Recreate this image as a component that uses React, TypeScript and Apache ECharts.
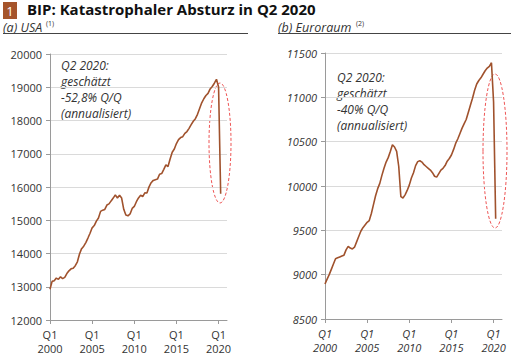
import React, { useEffect, useRef } from "react";
import * as echarts from "echarts";

const years = Array.from({ length: 22 }, (_, i) => 2000 + i);
const categories: string[] = [];
years.forEach((y) => {
  for (let q = 1; q <= 4; q++) categories.push(`Q${q}\n${y}`);
});
const axisCategories = categories.slice(0, 85); // Q1 2000 .. Q1 2021

// US real GDP (bn USD, chained), Q1 2000 .. Q2 2020
const usGdp = [
  12924, 13161, 13178, 13260,
  13223, 13300, 13245, 13281,
  13397, 13478, 13538, 13559,
  13634, 13751, 13985, 14146,
  14221, 14329, 14465, 14610,
  14772, 14840, 14972, 15067,
  15267, 15303, 15326, 15457,
  15493, 15582, 15667, 15762,
  15671, 15752, 15667, 15328,
  15156, 15134, 15189, 15356,
  15415, 15557, 15672, 15751,
  15713, 15825, 15821, 16004,
  16129, 16199, 16221, 16239,
  16383, 16403, 16532, 16664,
  16617, 16842, 17047, 17143,
  17306, 17423, 17486, 17514,
  17613, 17668, 17764, 17876,
  17977, 18054, 18186, 18359,
  18531, 18654, 18752, 18814,
  18950, 19021, 19121, 19240,
  19010, 15800,
];

// Euro area real GDP (bn EUR, annualised), Q1 2000 .. Q2 2020
const euGdp = [
  8895, 8950, 9000, 9060,
  9120, 9180, 9190, 9200,
  9210, 9220, 9280, 9320,
  9300, 9290, 9310, 9370,
  9430, 9490, 9530, 9560,
  9590, 9610, 9690, 9790,
  9890, 9970, 10030, 10120,
  10200, 10270, 10320, 10390,
  10465, 10440, 10390, 10220,
  9880, 9865, 9900, 9950,
  10010, 10090, 10150, 10230,
  10275, 10285, 10270, 10240,
  10220, 10200, 10180, 10150,
  10110, 10100, 10140, 10180,
  10200, 10230, 10280, 10310,
  10350, 10410, 10480, 10530,
  10590, 10650, 10700, 10750,
  10830, 10910, 10990, 11080,
  11150, 11190, 11220, 11260,
  11300, 11330, 11350, 11390,
  10950, 9630,
];

const usTicks = { min: 12000, max: 20000, interval: 1000 };
const euTicks = { min: 8500, max: 11500, interval: 500 };

const FONT = "'Open Sans', 'Noto Sans', sans-serif";
const LINE = "#a0522d";
const TEXT = "#333333";

export default function App() {
  const ref = useRef<HTMLDivElement>(null);
  useEffect(() => {
    if (!ref.current) return;
    const chart = echarts.init(ref.current, undefined, { renderer: "svg" });
    const showEvery = (i: number) => i % 20 === 0;
    const xAxisBase = (gridIndex: number, italic: boolean) => ({
      type: "category" as const,
      gridIndex,
      data: axisCategories,
      boundaryGap: false,
      axisLine: { show: true, lineStyle: { color: "#9a9a9a" } },
      axisTick: { show: true, interval: showEvery, length: 4, lineStyle: { color: "#9a9a9a" } },
      axisLabel: {
        interval: showEvery,
        color: TEXT,
        fontFamily: FONT,
        fontSize: 11,
        fontStyle: italic ? "italic" : "normal",
        lineHeight: 14,
        margin: 7,
      },
      splitLine: { show: false },
    });
    const yAxisBase = (gridIndex: number, t: any, italic: boolean) => ({
      type: "value" as const,
      gridIndex,
      min: t.min,
      max: t.max,
      interval: t.interval,
      axisLine: { show: true, lineStyle: { color: "#9a9a9a" } },
      axisTick: { show: true, length: 4, lineStyle: { color: "#9a9a9a" } },
      axisLabel: {
        color: TEXT,
        fontFamily: FONT,
        fontSize: 11,
        fontStyle: italic ? "italic" : "normal",
        margin: 8,
        formatter: (v: number) => String(v),
      },
      splitLine: { show: true, lineStyle: { color: "#dadada" } },
    });
    chart.setOption({
      animation: false,
      backgroundColor: "#ffffff",
      grid: [
        { left: 50, top: 54, width: 177, height: 266 },
        { left: 325, top: 53, width: 177, height: 266 },
      ],
      xAxis: [xAxisBase(0, false), xAxisBase(1, true)],
      yAxis: [yAxisBase(0, usTicks, false), yAxisBase(1, euTicks, true)],
      series: [
        {
          type: "line",
          xAxisIndex: 0,
          yAxisIndex: 0,
          data: usGdp,
          symbol: "none",
          lineStyle: { color: LINE, width: 1.6 },
        },
        {
          type: "line",
          xAxisIndex: 1,
          yAxisIndex: 1,
          data: euGdp,
          symbol: "none",
          lineStyle: { color: LINE, width: 1.6 },
        },
      ],
      graphic: [
        { type: "rect", shape: { x: 3, y: 2, width: 14, height: 17 }, style: { fill: "#a5542b" } },
        {
          type: "text",
          x: 10,
          y: 10.5,
          style: { text: "1", fill: "#ffffff", font: `13px ${FONT}`, align: "center", verticalAlign: "middle" },
        },
        {
          type: "text",
          x: 27,
          y: 1,
          style: { text: "BIP: Katastrophaler Absturz in Q2 2020", fill: "#111111", font: `bold 15px ${FONT}` },
        },
        {
          type: "text",
          x: 3,
          y: 21,
          style: { text: "(a) USA", fill: TEXT, font: `italic 12.5px ${FONT}` },
        },
        {
          type: "text",
          x: 46,
          y: 20,
          style: { text: "(1)", fill: TEXT, font: `7px ${FONT}` },
        },
        {
          type: "line",
          shape: { x1: 3, y1: 33.5, x2: 248, y2: 33.5 },
          style: { stroke: "#444444", lineWidth: 1 },
        },
        {
          type: "text",
          x: 278,
          y: 21,
          style: { text: "(b) Euroraum", fill: TEXT, font: `italic 12.5px ${FONT}` },
        },
        {
          type: "text",
          x: 356,
          y: 20,
          style: { text: "(2)", fill: TEXT, font: `7px ${FONT}` },
        },
        {
          type: "line",
          shape: { x1: 278, y1: 33.5, x2: 511, y2: 33.5 },
          style: { stroke: "#444444", lineWidth: 1 },
        },
        {
          type: "text",
          x: 61,
          y: 57,
          style: {
            text: "Q2 2020:\ngeschätzt\n-52,8% Q/Q\n(annualisiert)",
            fill: TEXT,
            font: `italic 12px ${FONT}`,
            lineHeight: 16,
          },
        },
        {
          type: "text",
          x: 337,
          y: 69,
          style: {
            text: "Q2 2020:\ngeschätzt\n-40% Q/Q\n(annualisiert)",
            fill: TEXT,
            font: `italic 12px ${FONT}`,
            lineHeight: 16,
          },
        },
        {
          type: "ellipse",
          shape: { cx: 220, cy: 143, rx: 11, ry: 60 },
          style: { fill: "none", stroke: "#ee5555", lineWidth: 1, lineDash: [3, 2] },
        },
        {
          type: "ellipse",
          shape: { cx: 495, cy: 151, rx: 12, ry: 77 },
          style: { fill: "none", stroke: "#ee5555", lineWidth: 1, lineDash: [3, 2] },
        },
      ],
    });
    return () => chart.dispose();
  }, []);
  return (
    <div
      ref={ref}
      style={{ position: "fixed", left: 0, top: 0, width: 512, height: 356 }}
    />
  );
}
